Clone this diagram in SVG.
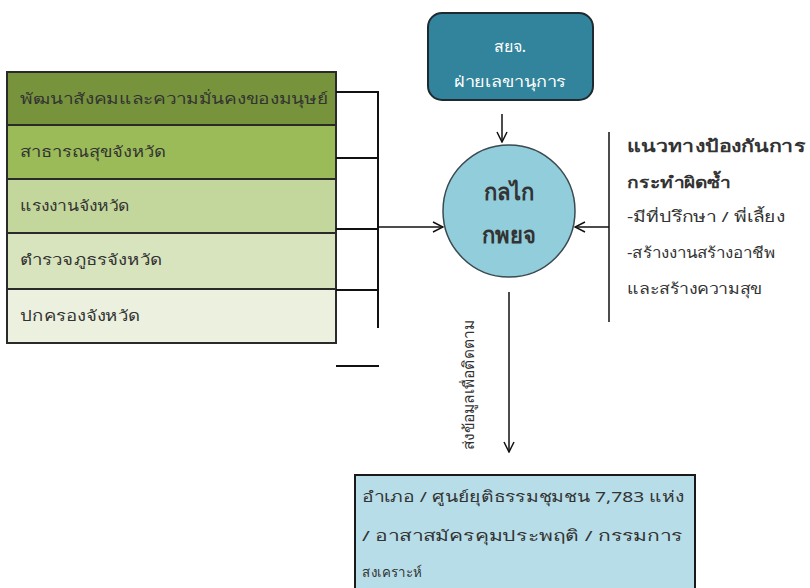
<svg xmlns="http://www.w3.org/2000/svg" width="810" height="588" viewBox="0 0 810 588">
<defs>
<style>
.t{font-family:"Noto Sans","DejaVu Sans","Liberation Sans",sans-serif;fill:#333;}
.row{stroke:#2a2a2a;stroke-width:2;}
.ln{stroke:#111;stroke-width:2;fill:none;}
.ar{stroke:#111;stroke-width:1.5;fill:none;}
</style>
<marker id="ah" viewBox="0 0 12 12" refX="11" refY="6" markerWidth="12" markerHeight="12" markerUnits="userSpaceOnUse" orient="auto">
<path d="M1,1 L11,6 L1,11" fill="none" stroke="#111" stroke-width="1.5"/>
</marker>
</defs>
<rect width="810" height="588" fill="#fff"/>
<g id="stack">
<g id="row1"><rect class="row" x="7" y="72" width="329" height="53" fill="#77933C"/><text class="t" x="20" y="104" font-size="15" textLength="308" lengthAdjust="spacingAndGlyphs">พัฒนาสังคมและความมั่นคงของมนุษย์</text></g>
<g id="row2"><rect class="row" x="7" y="125" width="329" height="54" fill="#9BBB59"/><text class="t" x="20" y="157" font-size="15" textLength="146" lengthAdjust="spacingAndGlyphs">สาธารณสุขจังหวัด</text></g>
<g id="row3"><rect class="row" x="7" y="179" width="329" height="54" fill="#C3D69B"/><text class="t" x="20" y="211" font-size="15" textLength="110" lengthAdjust="spacingAndGlyphs">แรงงานจังหวัด</text></g>
<g id="row4"><rect class="row" x="7" y="233" width="329" height="56" fill="#D7E4BD"/><text class="t" x="20" y="265" font-size="15" textLength="142" lengthAdjust="spacingAndGlyphs">ตำรวจภูธรจังหวัด</text></g>
<g id="row5"><rect class="row" x="7" y="289" width="329" height="54" fill="#EBF1DE"/><text class="t" x="20" y="321" font-size="15" textLength="120" lengthAdjust="spacingAndGlyphs">ปกครองจังหวัด</text></g>
</g>
<g id="top">
<rect x="428" y="13" width="165" height="87" rx="14" fill="#31849B" stroke="#1f2a30" stroke-width="2"/>
<text class="t" x="510" y="52" font-size="16" text-anchor="middle" style="fill:#fff">สยจ.</text>
<text class="t" x="510" y="87" font-size="15" text-anchor="middle" style="fill:#fff" textLength="112" lengthAdjust="spacingAndGlyphs">ฝ่ายเลขานุการ</text>
</g>
<g id="hub">
<circle cx="509" cy="211" r="66" fill="#92CDDC" stroke="#3a4a50" stroke-width="1.5"/>
<text class="t" x="509" y="200" font-size="22" font-weight="bold" text-anchor="middle">กลไก</text>
<text class="t" x="509" y="243" font-size="22" font-weight="bold" text-anchor="middle">กพยจ</text>
</g>
<g id="guide">
<text class="t" x="627" y="152" font-size="17" font-weight="bold" textLength="178" lengthAdjust="spacingAndGlyphs">แนวทางป้องกันการ</text>
<text class="t" x="627" y="188" font-size="16" font-weight="bold" textLength="104" lengthAdjust="spacingAndGlyphs">กระทำผิดซ้ำ</text>
<text class="t" x="627" y="222" font-size="15" textLength="158" lengthAdjust="spacingAndGlyphs">-มีที่ปรึกษา / พี่เลี้ยง</text>
<text class="t" x="627" y="258" font-size="15" textLength="148" lengthAdjust="spacingAndGlyphs">-สร้างงานสร้างอาชีพ</text>
<text class="t" x="627" y="294" font-size="15" textLength="135" lengthAdjust="spacingAndGlyphs">และสร้างความสุข</text>
</g>
<g id="bottom">
<rect x="355" y="475" width="340" height="120" fill="#B7DDE8" stroke="#1a1a1a" stroke-width="2"/>
<text class="t" x="362" y="502" font-size="15" textLength="322" lengthAdjust="spacingAndGlyphs">อำเภอ / ศูนย์ยุติธรรมชุมชน 7,783 แห่ง</text>
<text class="t" x="362" y="541" font-size="15" textLength="320" lengthAdjust="spacingAndGlyphs">/ อาสาสมัครคุมประพฤติ / กรรมการ</text>
<text class="t" x="362" y="577" font-size="14" textLength="60" lengthAdjust="spacingAndGlyphs">สงเคราะห์</text>
</g>
<g id="connectors">
<path class="ln" d="M336,92 H378 V328 M336,158 H378 M336,229 H378 M336,290 H378 M336,366 H379"/>
<line class="ar" x1="378" y1="227" x2="443" y2="227" marker-end="url(#ah)"/>
<line class="ar" x1="609" y1="227" x2="575" y2="227" marker-end="url(#ah)"/>
<line class="ln" x1="609" y1="132" x2="609" y2="322" style="stroke-width:1.5"/>
<line class="ar" x1="502" y1="114" x2="502" y2="142" marker-end="url(#ah)"/>
<line class="ar" x1="509" y1="292" x2="509" y2="452" marker-end="url(#ah)"/>
<text class="t" transform="translate(474,450) rotate(-90)" font-size="15" textLength="130" lengthAdjust="spacingAndGlyphs">ส่งข้อมูลเพื่อติดตาม</text>
</g>
</svg>
